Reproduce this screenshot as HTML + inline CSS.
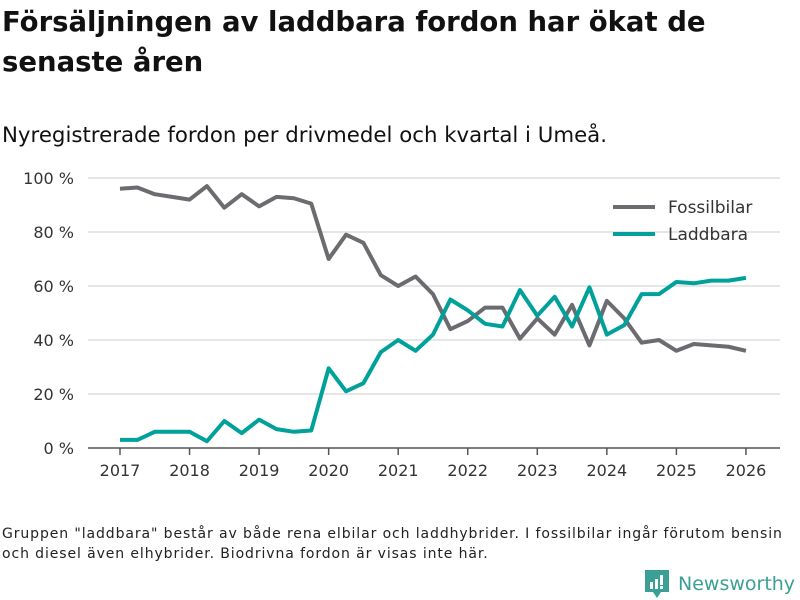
<!DOCTYPE html>
<html><head><meta charset="utf-8"><style>
body{margin:0;width:800px;height:600px;background:#fff;font-family:"DejaVu Sans","Liberation Sans",sans-serif;color:#111;overflow:hidden;position:relative}
h1{position:absolute;left:2px;top:2px;margin:0;font-size:27.5px;font-weight:bold;line-height:40px;width:790px}
.sub{position:absolute;left:2px;top:123px;font-size:21.3px}
.note{position:absolute;left:2px;top:524px;font-size:14px;letter-spacing:0.9px;line-height:20px;color:#222;white-space:nowrap}
.logo{position:absolute;left:645px;top:570px;display:flex;align-items:center;color:#3a9f94;font-size:19px}
</style></head><body>
<h1>Försäljningen av laddbara fordon har ökat de senaste åren</h1>
<div class="sub">Nyregistrerade fordon per drivmedel och kvartal i Umeå.</div>
<svg id="chart" width="800" height="600" style="position:absolute;left:0;top:0"></svg>
<div class="note">Gruppen "laddbara" består av både rena elbilar och laddhybrider. I fossilbilar ingår förutom bensin<br>och diesel även elhybrider. Biodrivna fordon är visas inte här.</div>
<div class="logo"><svg width="24" height="28" viewBox="0 0 24 28"><path d="M0 0h24v22h-8l-4 6-4-6H0z" fill="#3a9f94"/><rect x="5" y="12" width="3" height="7" fill="#fff"/><rect x="10" y="9" width="3" height="10" fill="#fff"/><rect x="15" y="5" width="3" height="10" fill="#fff"/><rect x="15" y="16" width="3" height="3" fill="#fff"/></svg><span style="margin-left:9px">Newsworthy</span></div>
<script>
const yTicks=[0,20,40,60,80,100];
const xTicks=[2017,2018,2019,2020,2021,2022,2023,2024,2025,2026];
const fossil=[96,96.5,94,93,92,97,89,94,89.5,93,92.5,90.5,70,79,76,64,60,63.5,57,44,47,52,52,40.5,48,42,53,38,54.5,48,39,40,36,38.5,38,37.5,36];
const ladd=[3,3,6,6,6,2.5,10,5.5,10.5,7,6,6.5,29.5,21,24,35.5,40,36,42,55,51,46,45,58.5,49,56,45,59.5,42,45.5,57,57,61.5,61,62,62,63];
const startYear=2017;
const ns="http://www.w3.org/2000/svg",svg=document.getElementById('chart');
const X=t=>120+(t-2017)*69.55, Y=v=>448-v*2.7;
function el(tag,a,p){const e=document.createElementNS(ns,tag);for(const k in a)e.setAttribute(k,a[k]);(p||svg).appendChild(e);return e;}
yTicks.forEach(v=>{
 const g=el('line',{x1:88,x2:780,y1:Y(v),y2:Y(v),stroke:v===0?'#555':'#ddd','stroke-width':1.5});
 
 
 const t=el('text',{x:74,y:Y(v)+6,'text-anchor':'end','font-size':16,fill:'#333'});t.textContent=v+' %';
 
 
});
xTicks.forEach(yr=>{
 const l=el('line',{x1:X(yr),x2:X(yr),y1:448,y2:455,stroke:'#555','stroke-width':1.5});
 
 
 const t=el('text',{x:X(yr),y:476,'text-anchor':'middle','font-size':16,fill:'#333'});t.textContent=yr;
 
 
});
function line(d,c,name){
 const p=el('polyline',{points:d.map((v,i)=>X(startYear+i/4)+','+Y(v)).join(' '),fill:'none',stroke:c,'stroke-width':4,'stroke-linejoin':'round'});
 
 
}
line(fossil,'#6c6b70','line-fossilbilar');
line(ladd,'#00a19a','line-laddbara');
[['Fossilbilar','#6c6b70',207],['Laddbara','#00a19a',234]].forEach(([n,c,y])=>{
 const l=el('line',{x1:613,x2:655,y1:y,y2:y,stroke:c,'stroke-width':4});
 
 
 const t=el('text',{x:668,y:y+6,'font-size':17,fill:'#333'});t.textContent=n;
 
 
});
</script>
</body></html>
